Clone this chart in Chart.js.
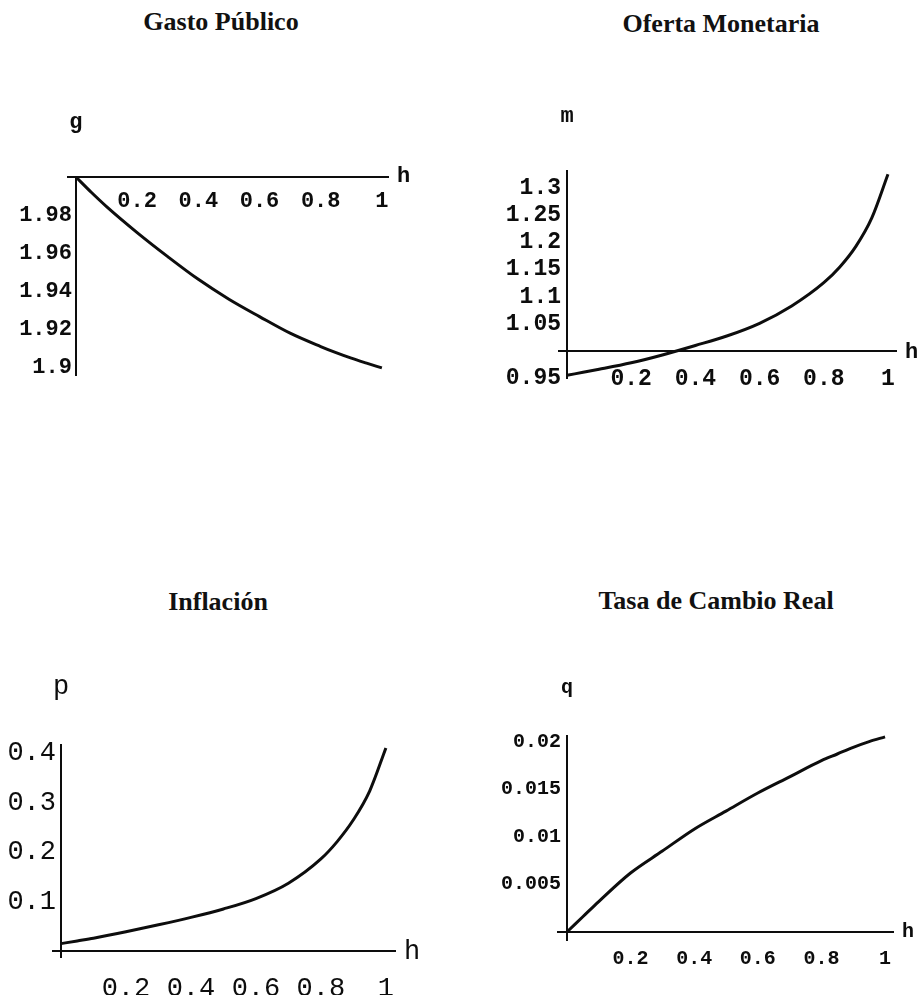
<!DOCTYPE html>
<html>
<head>
<meta charset="utf-8">
<script src="https://cdn.jsdelivr.net/npm/chart.js@4.4.1/dist/chart.umd.min.js"></script>
<style>
  body { margin: 0; background: #fff; width: 919px; height: 995px; position: relative; overflow: hidden; }
  .titulo { position: absolute; font: bold 26px "Liberation Serif", "Times New Roman", serif; line-height: 26px;
            color: #111; transform: translateX(-50%); white-space: nowrap; }
  canvas { position: absolute; left: 0; top: 0; }
</style>
</head>
<body>
<div class="titulo" style="left:221px;top:9px">Gasto Público</div>
<div class="titulo" style="left:721px;top:11px">Oferta Monetaria</div>
<div class="titulo" style="left:218px;top:589px">Inflación</div>
<div class="titulo" style="left:716px;top:588px">Tasa de Cambio Real</div>

<canvas id="gasto" width="919" height="995"></canvas>
<canvas id="oferta" width="919" height="995"></canvas>
<canvas id="inflacion" width="919" height="995"></canvas>
<canvas id="cambio" width="919" height="995"></canvas>

<script>
// valores (h de 0 a 1)
const hValores = [0, 0.05, 0.1, 0.2, 0.3, 0.4, 0.5, 0.6, 0.7, 0.8, 0.85, 0.9, 0.95, 1];
const gastoPublico = [2.0, 1.992, 1.9845, 1.9709, 1.9583, 1.9464, 1.936, 1.9269, 1.9182, 1.9112, 1.908, 1.9051, 1.9025, 1.9];
const ofertaMonetaria = [0.955, 0.9605, 0.966, 0.978, 0.993, 1.01, 1.028, 1.051, 1.083, 1.126, 1.155, 1.193, 1.246, 1.326];
const inflacion = [0.015, 0.0205, 0.026, 0.039, 0.053, 0.068, 0.085, 0.106, 0.137, 0.186, 0.221, 0.265, 0.323, 0.41];
const tasaCambioReal = [0, 0.0016, 0.0032, 0.0062, 0.0085, 0.0108, 0.0127, 0.0146, 0.0163, 0.018, 0.0187, 0.0194, 0.02, 0.0205];

// marcas de los ejes
const ticksH = [0.2, 0.4, 0.6, 0.8, 1];
const ticksGasto = [1.9, 1.92, 1.94, 1.96, 1.98];
const ticksOferta = [0.95, 1.05, 1.1, 1.15, 1.2, 1.25, 1.3];
const ticksInflacion = [0.1, 0.2, 0.3, 0.4];
const ticksCambio = [0.005, 0.01, 0.015, 0.02];

const FUENTE_MONO = '"Liberation Mono", "Courier New", monospace';
const NEGRO = '#0d0d0d';

// letras de los ejes (g, m, p, q y h)
const letrasEjes = {
  id: 'letrasEjes',
  afterDraw(chart, args, o) {
    const { ctx, scales: { x, y } } = chart;
    ctx.save();
    ctx.fillStyle = NEGRO;
    ctx.font = `${o.weight} ${o.size}px ${FUENTE_MONO}`;
    ctx.textBaseline = 'alphabetic';
    ctx.textAlign = 'center';
    ctx.fillText(o.letra, x.getPixelForValue(0), y.top + o.dy);
    ctx.textAlign = 'left';
    ctx.fillText('h', x.right + 9, y.getPixelForValue(o.cruce) + o.hDy);
    ctx.restore();
  }
};

function crearGrafico(id, serie, cfg) {
  const fuente = { family: FUENTE_MONO, size: cfg.size, weight: cfg.weight };
  // separacion entre las etiquetas del eje y y la linea del eje, en unidades de h
  const anchoUnidad = (cfg.area[2] - cfg.area[0]) / (cfg.xMax - cfg.xMin);
  const xEtiquetas = -cfg.sepY / anchoUnidad;
  const sinMarcas = { display: false, drawTicks: false };

  new Chart(document.getElementById(id), {
    type: 'scatter',
    data: {
      datasets: [{
        data: hValores.map((h, i) => ({ x: h, y: serie[i] })),
        yAxisID: 'y',
        showLine: true,
        borderColor: NEGRO,
        borderWidth: 3,
        pointRadius: 0,
        tension: 0.4,
        cubicInterpolationMode: 'monotone',
        clip: false
      }]
    },
    options: {
      responsive: false,
      animation: false,
      events: [],
      layout: {
        padding: { left: cfg.area[0], top: cfg.area[1], right: 919 - cfg.area[2], bottom: 995 - cfg.area[3] }
      },
      plugins: {
        legend: { display: false },
        tooltip: { enabled: false },
        letrasEjes: { letra: cfg.letra, dy: cfg.letraDy, hDy: cfg.hDy, cruce: cfg.cruce,
                      size: cfg.letraSize, weight: cfg.letraWeight }
      },
      scales: {
        x: {
          type: 'linear',
          min: cfg.xMin, max: cfg.xMax,
          position: { y: cfg.cruce },
          grid: sinMarcas,
          border: { display: true, color: NEGRO, width: 2 },
          afterBuildTicks: s => { s.ticks = ticksH.map(v => ({ value: v })); },
          ticks: {
            autoSkip: false, minRotation: 0, maxRotation: 0,
            padding: cfg.padX, color: NEGRO, font: fuente,
            callback: v => String(v)
          }
        },
        y: {
          type: 'linear',
          min: cfg.yMin, max: cfg.yMax,
          position: { x: 0 },
          grid: sinMarcas,
          border: { display: true, color: NEGRO, width: 2 },
          ticks: { display: false }
        },
        yEtiquetas: {
          type: 'linear',
          axis: 'y',
          min: cfg.yMin, max: cfg.yMax,
          position: { x: xEtiquetas },
          grid: sinMarcas,
          border: { display: false },
          afterBuildTicks: s => { s.ticks = cfg.ticksY.map(v => ({ value: v })); },
          ticks: {
            autoSkip: false, padding: 0, color: NEGRO, font: fuente,
            callback: v => String(v)
          }
        }
      }
    },
    plugins: [letrasEjes]
  });
}

crearGrafico('gasto', gastoPublico, {
  area: [68, 177, 388, 375], xMin: -0.026, xMax: 1.02, yMin: 1.8963, yMax: 2.0,
  cruce: 2.0, ticksY: ticksGasto, size: 22, weight: 'bold', padX: 11, sepY: 4,
  letra: 'g', letraDy: -49, hDy: 5, letraSize: 22, letraWeight: 'bold'
});

crearGrafico('oferta', ofertaMonetaria, {
  area: [559, 171, 896, 378], xMin: -0.025, xMax: 1.025, yMin: 0.95, yMax: 1.332,
  cruce: 1.0, ticksY: ticksOferta, size: 23, weight: 'bold', padX: 14, sepY: 6,
  letra: 'm', letraDy: -49, hDy: 7, letraSize: 22, letraWeight: 'bold'
});

crearGrafico('inflacion', inflacion, {
  area: [53, 745, 395, 957], xMin: -0.0246, xMax: 1.028, yMin: -0.012, yMax: 0.416,
  cruce: 0, ticksY: ticksInflacion, size: 27, weight: 'normal', padX: 22, sepY: 5,
  letra: 'p', letraDy: -51, hDy: 8, letraSize: 27, letraWeight: 'normal'
});

crearGrafico('cambio', tasaCambioReal, {
  area: [558, 736, 893, 940], xMin: -0.028, xMax: 1.025, yMin: -0.00084, yMax: 0.02059,
  cruce: 0, ticksY: ticksCambio, size: 20, weight: 'bold', padX: 15, sepY: 6,
  letra: 'q', letraDy: -43, hDy: 5, letraSize: 20, letraWeight: 'bold'
});
</script>
</body>
</html>
